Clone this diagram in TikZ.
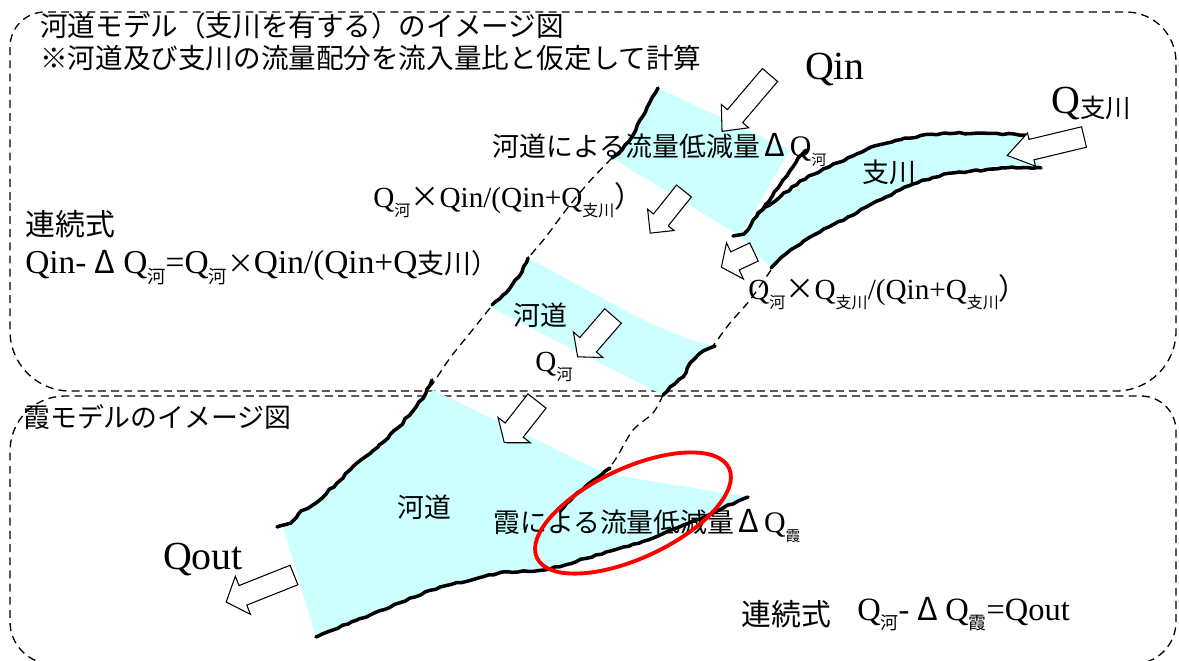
\documentclass[tikz,border=0pt]{standalone}
\usepackage{fontspec}
\usepackage{graphicx}
\setmainfont{Liberation Serif}
\newfontfamily\jp{Noto Sans CJK JP}
\usetikzlibrary{decorations.pathmorphing}

\definecolor{water}{RGB}{204,255,255}
\newcommand{\sjp}[2][0.55]{\raisebox{-0.3em}{\scalebox{#1}{\jp #2}}}
\newcommand{\dlt}{\makebox[1.1em]{\jp\fontsize{18}{18}\selectfont Δ}}

\begin{document}
\begin{tikzpicture}[x=0.02cm, y=-0.02cm,
  bank/.style={line width=2pt, decorate, decoration={random steps, segment length=3pt, amplitude=0.5pt}, line join=round, line cap=round},
  gap/.style={line width=0.75pt, dash pattern=on 4.5pt off 3pt},
  frame/.style={line width=0.75pt, dash pattern=on 4.5pt off 3pt},
  jtxt/.style={font=\jp\fontsize{15.3}{18}\selectfont, inner sep=0pt},
  ltxt/.style={font=\fontsize{16.6}{18}\selectfont, inner sep=0pt},
  bigq/.style={font=\fontsize{22.7}{24}\selectfont, inner sep=0pt},
  pics/hollow/.style n args={4}{code={\draw[fill=white, line width=0.6pt] (0,-#2) -- (#1-#4,-#2) -- (#1-#4,-#3) -- (#1,0) -- (#1-#4,#3) -- (#1-#4,#2) -- (0,#2) -- cycle;}}]
\pgfmathsetseed{7}
\useasboundingbox (0,0) rectangle (1179,660);

% model boxes
\draw[frame] (10,200) [rounded corners=0.7cm] |- (600,12) [rounded corners=1cm] -| (1176,200) [rounded corners=1.2cm] |- (600,391) -| (10,200);
\draw[frame] (10,500) [rounded corners=1.1cm] |- (600,396) [rounded corners=0.7cm] -| (1176,500) [rounded corners=0.85cm] |- (600,664) -| (10,500);

% water surface
\fill[water] (658,88) -- (790,150) -- (740,236) -- (612,158) -- (622,150) -- (640,120) -- cycle;
\fill[water] (740,236) -- (757,214) -- (780,197) -- (829,167) -- (871,147) -- (944,133) -- (1026,135) -- (1041,168) -- (1001,168) -- (944,174) -- (886,197) -- (848,217) -- (810,237) -- (771,268) -- cycle;
\fill[water] (528,258) .. controls (600,296) and (660,334) .. (713,346) -- (690,363) -- (663,395) -- (490,307) -- (512,285) -- cycle;
\fill[water] (433,390) -- (607,474) -- (750,497) -- (689,523) -- (606,552) -- (544,570) -- (499,573) -- (440,587) -- (357,620) -- (316,637) -- (283,527) -- (299,513) -- (337,483) -- (378,447) -- (416,407) -- cycle;

% open stretches of the banks
\draw[gap] plot[smooth] coordinates {(612,158) (589,182) (566,210) (545,238) (528,258)};
\draw[gap] plot[smooth] coordinates {(490,308) (470,333) (450,358) (432,385)};
\draw[gap] plot[smooth] coordinates {(771,270) (750,300) (730,323) (713,346)};
\draw[gap] plot[smooth] coordinates {(663,395) (653,413) (633,430) (617,457) (610,467)};

% banks
\draw[bank] plot coordinates {(658,88) (650,102) (640,120) (632,137) (622,150) (612,158)};
\draw[bank] plot coordinates {(806,150) (798,158) (778,188) (757,216) (744,234) (733,236)};
\draw[bank] plot coordinates {(757,214) (780,197) (800,181) (829,167) (871,147) (905,138) (944,133) (982,133) (1026,135)};
\draw[bank] plot coordinates {(771,268) (787,253) (810,237) (848,217) (886,197) (913,184) (944,174) (1001,168) (1041,168)};
\draw[bank] plot coordinates {(528,258) (522,272) (512,285) (503,295) (492,305)};
\draw[bank] plot coordinates {(715,346) (703,351) (690,363) (683,377) (670,387) (663,395)};
\draw[bank] plot coordinates {(432,380) (426,393) (416,407) (399,427) (378,447) (357,463) (337,483) (316,503) (299,513) (291,523) (277,527)};
\draw[bank] plot coordinates {(748,497) (689,523) (648,540) (606,552) (565,565) (544,570) (499,573) (482,577) (440,587) (399,603) (357,620) (316,637)};
\draw[bank] plot coordinates {(610,468) (597,478) (587,485) (577,493) (567,503) (560,511)};

% flows
\coordinate (qin tail) at (770,75);
\coordinate (share tail) at (684,191);
\coordinate (trib tail) at (1084,137);
\coordinate (mouth tail) at (754,252);
\coordinate (chan tail) at (613,316);
\coordinate (low tail) at (537,401);
\coordinate (out tail) at (294,575);
\pic[rotate=229.6] at (qin tail) {hollow={74}{10}{18}{20}};
\pic[rotate=231.3] at (share tail) {hollow={54}{9.5}{17}{17}};
\pic[rotate=193.5] at (trib tail) {hollow={79}{10.5}{17}{25}};
\pic[rotate=205] at (mouth tail) {hollow={36}{10}{20}{15}};
\pic[rotate=229.1] at (chan tail) {hollow={54}{11}{19.5}{16}};
\pic[rotate=231.9] at (low tail) {hollow={53}{11.5}{20.5}{16}};
\pic[rotate=201.7] at (out tail) {hollow={73}{10.5}{20.5}{18}};

% labels
\node[jtxt, anchor=west, font=\jp\fontsize{15.7}{18}\selectfont] (title) at (40,26) {河道モデル（支川を有する）のイメージ図};
\node[jtxt, anchor=west, font=\jp\fontsize{15.7}{18}\selectfont] (note) at (40,58) {※河道及び支川の流量配分を流入量比と仮定して計算};
\node[bigq] (qin) at (835,70) {Qin};
\node[bigq, anchor=west] (qtrib) at (1051,104) {Q\raisebox{-0.1em}{\jp\fontsize{14.5}{16}\selectfont 支川}};
\node[jtxt, anchor=west] (lossriver) at (492,150) {河道による流量低減量\dlt{\rmfamily\fontsize{17}{18}\selectfont Q}\sjp{河}};
\node[jtxt] (tribname) at (889,172) {支川};
\node[ltxt, anchor=west] (shareriver) at (373,200) {Q\sjp{河}{\jp ×}Qin/(Qin+Q\sjp{支川}{\jp ）}};
\node[jtxt, anchor=west, font=\jp\fontsize{17}{18}\selectfont] (law) at (25,224) {連続式};
\node[ltxt, anchor=west, font=\fontsize{19}{20}\selectfont] (lawriver) at (25,268) {Qin-\dlt Q\sjp{河}=Q\sjp{河}{\jp\fontsize{15.3}{18}\selectfont ×}Qin/(Qin+Q{\jp\fontsize{15.3}{18}\selectfont 支川）}};
\node[ltxt, anchor=west] (sharetrib) at (748,292) {Q\sjp{河}{\jp ×}Q\sjp{支川}/(Qin+Q\sjp{支川}{\jp ）}};
\node[jtxt] (chan2) at (540,315) {河道};
\node[ltxt] (qchan) at (554,367) {Q\sjp{河}};
\node[jtxt, anchor=west] (kasumititle) at (23,417) {霞モデルのイメージ図};
\node[jtxt] (chan3) at (424,507) {河道};
\node[jtxt, anchor=west] (losskasumi) at (493,526) {霞による流量低減量\dlt{\rmfamily\fontsize{17}{18}\selectfont Q}\sjp{霞}};
\node[bigq] (qout) at (203,560) {Qout};
\node[jtxt, anchor=west, font=\jp\fontsize{17}{18}\selectfont] (law2) at (741,614) {連続式};
\node[ltxt, anchor=west, font=\fontsize{18.5}{20}\selectfont] (lawkasumi) at (857,614) {Q\sjp{河}-\dlt Q\sjp{霞}=Qout};

% open levee
\draw[red, line width=2.2pt, rotate around={25:(633,513)}] (633,513) ellipse [x radius=106, y radius=45];
\end{tikzpicture}
\end{document}
